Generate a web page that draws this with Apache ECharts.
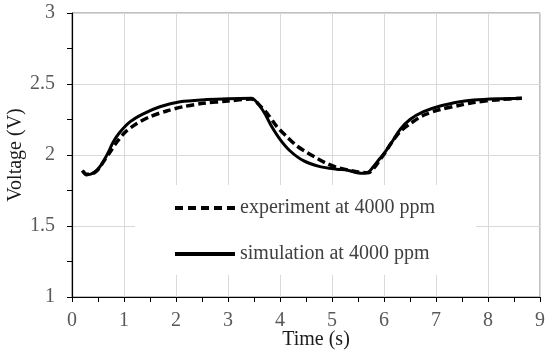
<!DOCTYPE html>
<html>
<head>
<meta charset="utf-8">
<script src="https://cdn.jsdelivr.net/npm/echarts@6/dist/echarts.min.js"></script>
<style>html,body{margin:0;padding:0;background:#fff}#c{width:550px;height:355px}</style>
</head>
<body>
<div id="c"></div>
<script>
var seriesNames = ['experiment at 4000 ppm', 'simulation at 4000 ppm'];
var xTicks = [0, 1, 2, 3, 4, 5, 6, 7, 8, 9];
var yTicks = [1, 1.5, 2, 2.5, 3];

var expTime = [0.2, 0.28, 0.36, 0.45, 0.52, 0.6, 0.73, 0.86, 1.02, 1.24, 1.5, 1.82, 2.14, 2.53, 3.0, 3.45, 3.62, 3.78, 3.94, 4.13, 4.32, 4.51, 4.71, 4.9, 5.09, 5.3, 5.5, 5.7, 5.8, 5.92, 6.02, 6.15, 6.31, 6.5, 6.76, 7.08, 7.46, 7.72, 8.23, 8.65];
var expVolt = [1.89, 1.865, 1.865, 1.88, 1.905, 1.95, 2.02, 2.09, 2.16, 2.22, 2.27, 2.31, 2.34, 2.364, 2.38, 2.395, 2.345, 2.28, 2.20, 2.13, 2.065, 2.02, 1.977, 1.94, 1.913, 1.895, 1.88, 1.875, 1.905, 1.965, 2.015, 2.09, 2.165, 2.22, 2.28, 2.32, 2.35, 2.37, 2.39, 2.40];

var simTime = [0.2, 0.28, 0.36, 0.44, 0.52, 0.6, 0.7, 0.79, 0.92, 1.12, 1.37, 1.69, 2.08, 2.59, 3.0, 3.45, 3.58, 3.71, 3.84, 4.0, 4.19, 4.45, 4.77, 5.09, 5.3, 5.54, 5.7, 5.79, 5.92, 6.02, 6.15, 6.31, 6.5, 6.76, 7.08, 7.46, 7.72, 8.23, 8.65];
var simVolt = [1.89, 1.86, 1.865, 1.88, 1.91, 1.953, 2.02, 2.09, 2.16, 2.235, 2.29, 2.34, 2.375, 2.39, 2.397, 2.40, 2.36, 2.29, 2.20, 2.11, 2.03, 1.96, 1.918, 1.90, 1.893, 1.872, 1.88, 1.915, 1.975, 2.02, 2.09, 2.18, 2.25, 2.305, 2.345, 2.375, 2.387, 2.396, 2.40];

function zip(a, b) { return a.map(function (v, i) { return [v, b[i]]; }); }

var DASH_ICON = 'path://M0,0H8V4H0Z M13,0H21V4H13Z M26,0H34V4H26Z M39,0H47V4H39Z M52,0H60V4H52Z';
var SOLID_ICON = 'path://M0,0H60V4H0Z';

var FONT = '"Liberation Serif", "Times New Roman", serif';
var chart = echarts.init(document.getElementById('c'), null, { renderer: 'canvas' });
chart.setOption({
  animation: false,
  backgroundColor: '#fff',
  grid: { left: 72, right: 10, top: 13, bottom: 58, show: true, borderColor: '#7f7f7f', borderWidth: 1, backgroundColor: 'transparent', containLabel: false, outerBoundsMode: 'none' },
  xAxis: {
    type: 'value', min: xTicks[0], max: xTicks[xTicks.length - 1], interval: 1,
    name: 'Time (s)', nameLocation: 'middle', nameGap: 33, nameMoveOverlap: false,
    nameTextStyle: { fontFamily: FONT, fontSize: 20, color: '#1a1a1a', padding: [0, 0, 0, 20] },
    axisLine: { show: true, onZero: false, lineStyle: { color: '#000', width: 1.2 } },
    axisTick: { show: true, inside: false, length: 5, lineStyle: { color: '#000' } },
    minorTick: { show: true, splitNumber: 2, length: 5, lineStyle: { color: '#000' } },
    axisLabel: { fontFamily: FONT, fontSize: 20, color: '#595959', margin: 14 },
    splitLine: { show: true, lineStyle: { color: '#d9d9d9', width: 1 } }
  },
  yAxis: {
    type: 'value', min: yTicks[0], max: yTicks[yTicks.length - 1], interval: 0.5,
    name: 'Voltage (V)', nameLocation: 'middle', nameGap: 46, nameRotate: 90, nameMoveOverlap: false,
    nameTextStyle: { fontFamily: FONT, fontSize: 20, color: '#1a1a1a' },
    axisLine: { show: true, onZero: false, lineStyle: { color: '#000', width: 1.2 } },
    axisTick: { show: true, inside: false, length: 5, lineStyle: { color: '#000' } },
    minorTick: { show: true, splitNumber: 2, length: 5, lineStyle: { color: '#000' } },
    axisLabel: { fontFamily: FONT, fontSize: 20, color: '#595959', margin: 17 },
    splitLine: { show: true, lineStyle: { color: '#d9d9d9', width: 1 } }
  },
  legend: {
    orient: 'vertical', left: 135, top: 185,
    backgroundColor: '#fff',
    padding: [13, 41, 11, 40],
    itemWidth: 60, itemHeight: 4, itemGap: 26,
    textStyle: { fontFamily: FONT, fontSize: 20, color: '#404040', lineHeight: 20 },
    data: [
      { name: seriesNames[0], icon: DASH_ICON },
      { name: seriesNames[1], icon: SOLID_ICON }
    ]
  },
  series: [
    {
      name: seriesNames[0], type: 'line', symbol: 'none', smooth: 0.3,
      lineStyle: { color: '#000', width: 3.5, type: [8, 4] },
      itemStyle: { color: '#000' },
      data: zip(expTime, expVolt), z: 3
    },
    {
      name: seriesNames[1], type: 'line', symbol: 'none', smooth: 0.3,
      lineStyle: { color: '#000', width: 3 },
      itemStyle: { color: '#000' },
      data: zip(simTime, simVolt), z: 4
    }
  ]
});
</script>
</body>
</html>
